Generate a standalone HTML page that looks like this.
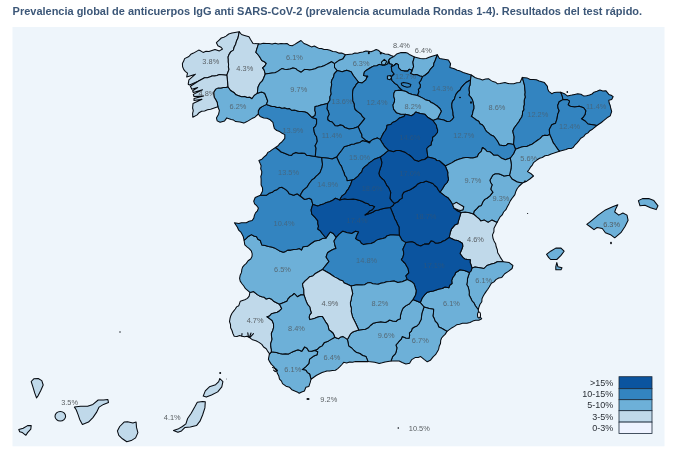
<!DOCTYPE html>
<html lang="es">
<head>
<meta charset="utf-8">
<title>Prevalencia global de anticuerpos IgG anti SARS-CoV-2</title>
<style>
html,body{margin:0;padding:0;background:#ffffff;}
body{width:680px;height:460px;overflow:hidden;font-family:"Liberation Sans",Arial,sans-serif;}
svg{display:block;}
</style>
</head>
<body>
<svg width="680" height="460" viewBox="0 0 680 460">
<rect x="0" y="0" width="680" height="460" fill="#ffffff"/>
<rect x="12.5" y="27" width="652" height="419.3" fill="#eef5fb"/>
<text x="12.6" y="15.2" font-family="'Liberation Sans', Arial, sans-serif" font-weight="700" font-size="11.2" fill="#3c5778" textLength="629.5" lengthAdjust="spacingAndGlyphs">Prevalencia global de anticuerpos IgG anti SARS-CoV-2 (prevalencia acumulada Rondas 1-4). Resultados del test rápido.</text>
<g stroke="#05090f" stroke-width="1.05" stroke-linejoin="round">
<path d="M239.3,31.7L232.0,33.1L228.7,34.0L226.0,36.1L223.8,37.2L221.3,38.0L219.4,39.8L216.4,42.7L217.9,45.7L220.9,47.2L222.5,49.0L219.4,50.9L215.0,49.4L212.0,50.5L209.0,51.6L206.0,51.3L203.1,52.4L201.0,51.1L198.7,50.1L196.1,51.6L193.5,53.1L190.8,54.3L188.9,56.5L184.6,58.6L183.7,61.1L182.4,63.5L182.6,66.7L183.8,69.6L185.5,71.6L187.5,73.2L186.7,76.9L195.5,74.2L188.9,79.8L188.2,84.2L189.5,85.0L198.2,81.2L204.6,77.8L207.2,77.7L209.6,77.0L212.0,76.0L214.6,76.0L217.0,75.4L219.4,74.6L226.8,75.3L229.0,69.4L228.4,67.0L228.6,64.5L228.3,62.0L228.3,59.5L228.1,57.0L229.0,54.6L230.7,51.9L233.4,50.1L234.2,47.0L235.7,44.2L236.5,41.1L237.9,38.3Z" fill="#c0d9ea"/>
<path d="M258.5,43.8L253.0,43.5L250.5,39.5L249.0,36.8L244.5,35.4L241.5,34.5L239.3,31.7L237.9,38.3L236.5,41.1L235.7,44.2L234.2,47.0L233.4,50.1L230.7,51.9L229.0,54.6L228.1,57.0L228.3,59.5L228.3,62.0L228.6,64.5L228.4,67.0L229.0,69.4L226.8,75.3L227.5,80.9L227.8,86.8L230.5,90.5L234.2,92.8L236.0,94.8L238.6,95.7L241.5,96.8L244.5,96.4L247.0,97.5L249.7,97.2L251.9,98.7L254.1,95.7L257.3,93.3L258.0,87.3L259.0,85.0L260.3,82.8L262.3,80.9L263.5,78.5L265.3,74.0L264.8,72.3L264.1,69.9L262.6,67.9L264.8,66.0L266.3,63.5L264.3,61.7L261.8,60.5L259.6,56.8L257.9,54.5L255.9,52.4L256.7,49.4Z" fill="#c0d9ea"/>
<path d="M345.5,54.7L341.7,53.1L338.7,53.1L335.8,51.8L332.8,51.6L330.0,50.3L327.1,49.6L324.0,49.4L321.6,48.4L318.9,48.4L316.6,47.2L314.3,46.0L311.5,46.9L309.2,45.7L306.7,44.5L304.0,43.5L301.0,40.5L297.3,42.8L294.8,44.4L292.2,45.7L289.3,45.2L287.0,43.5L284.0,43.8L281.0,43.4L278.1,43.9L275.2,43.2L272.1,44.1L269.2,43.5L266.3,43.5L263.3,43.2L260.4,43.9L258.5,43.8L256.7,49.4L255.9,52.4L257.9,54.5L259.6,56.8L261.8,60.5L264.3,61.7L266.3,63.5L264.8,66.0L262.6,67.9L264.1,69.9L264.8,72.3L265.3,74.0L272.2,73.1L274.9,72.8L277.4,71.6L279.6,70.1L281.8,68.6L284.4,69.2L287.0,69.4L290.1,69.1L292.9,67.9L295.4,68.4L297.3,70.1L301.0,72.3L304.7,69.4L307.2,69.6L309.6,70.0L312.1,69.4L315.2,68.7L318.0,67.2L321.1,66.8L324.0,65.7L326.2,64.6L328.4,63.5L331.5,61.7L334.5,63.6L338.7,60.6L342.7,59.1L344.7,56.1Z" fill="#6db0d8"/>
<path d="M393.8,56.6L391.0,55.5L388.2,54.2L385.1,54.1L380.7,52.6L378.8,50.6L376.2,49.6L373.6,50.8L371.0,51.8L368.5,51.3L365.9,51.1L363.0,52.1L359.9,52.6L357.5,53.2L354.9,53.1L352.5,54.1L345.5,54.7L344.7,56.1L342.7,59.1L338.7,60.6L334.5,63.6L334.5,67.5L337.1,70.6L342.2,71.8L346.6,70.3L351.1,71.8L353.3,75.5L356.2,79.2L358.5,82.2L362.2,82.9L365.9,79.9L367.3,76.2L363.6,75.5L364.4,71.8L366.5,70.2L368.8,68.8L371.3,67.2L374.0,65.9L376.8,65.8L379.2,64.4L382.1,65.1L385.1,65.1L388.0,63.7L388.6,60.3L390.3,58.4Z" fill="#6db0d8"/>
<path d="M414.4,57.0L409.9,54.8L407.9,53.3L405.5,52.6L401.1,52.6L396.6,54.1L393.8,56.6L390.3,58.4L388.6,60.3L389.5,63.7L392.2,64.4L391.3,66.8L394.0,65.5L396.3,63.5L398.3,64.6L398.7,68.0L400.9,70.2L404.3,71.1L407.8,71.1L409.1,69.3L411.3,69.8L411.8,71.5L413.6,66.6L412.9,62.2Z" fill="#6db0d8"/>
<path d="M437.3,54.8L432.1,56.3L429.1,57.3L426.2,58.5L423.2,58.8L420.3,58.5L414.4,57.0L412.9,62.2L413.6,66.6L411.8,71.5L410.4,73.3L413.0,74.6L416.5,74.6L420.0,75.9L422.4,76.6L424.7,75.5L428.4,72.5L430.7,68.8L433.6,65.9L433.9,63.2L435.1,60.7Z" fill="#6db0d8"/>
<path d="M471.3,75.0L463.2,72.5L460.3,71.1L457.3,70.3L454.3,68.8L449.9,67.4L450.6,63.7L448.4,60.0L444.0,59.2L439.5,58.5L437.3,54.8L435.1,60.7L433.9,63.2L433.6,65.9L430.7,68.8L428.4,72.5L424.7,75.5L422.4,76.6L420.9,80.2L419.1,82.8L420.4,85.0L420.0,87.6L418.3,89.3L418.8,91.8L417.3,95.5L423.3,98.4L426.0,100.1L429.2,100.7L431.1,102.5L433.6,103.6L437.5,106.3L439.8,108.5L441.3,111.3L437.5,118.8L443.8,120.0L446.8,121.4L450.0,121.3L452.1,119.6L453.8,117.5L453.1,115.0L453.0,112.5L452.5,110.0L451.9,107.1L451.8,104.2L452.5,101.3L454.4,99.1L455.2,96.4L456.3,93.8L458.0,91.7L460.1,90.0L461.3,87.5L463.6,84.9L466.0,82.5L470.5,80.0Z" fill="#3384c0"/>
<path d="M522.3,77.4L520.0,82.5L516.8,82.8L513.8,83.8L510.8,83.7L507.9,83.5L505.0,82.5L502.5,83.0L500.0,83.5L497.5,83.8L495.5,82.2L493.0,81.6L490.8,80.4L488.8,78.8L485.6,79.1L482.5,80.0L480.0,79.1L477.5,78.5L475.0,77.5L471.3,75.0L470.5,80.0L470.0,85.0L469.1,87.4L468.9,89.9L469.5,92.6L468.8,95.0L470.9,97.3L472.5,100.0L473.2,102.9L473.8,105.8L473.8,108.8L472.8,111.3L472.5,113.9L471.3,116.3L473.9,118.1L476.3,120.0L478.7,121.2L480.0,123.8L482.5,125.0L484.0,127.0L485.1,129.2L486.3,131.3L488.7,133.1L491.0,135.1L493.8,136.3L496.5,139.8L498.1,142.3L499.4,145.0L503.9,145.7L506.4,145.2L508.3,143.5L513.6,144.5L514.2,136.8L513.4,133.9L512.8,130.9L514.3,127.8L516.4,125.0L519.0,121.5L520.2,119.2L521.8,117.0L522.5,114.4L522.5,111.9L524.0,109.6L523.7,107.0L524.4,104.6L524.3,102.1L524.4,99.6L525.4,97.2L524.9,94.7L525.2,92.2L524.9,89.7L524.7,87.3L524.4,84.8Z" fill="#6db0d8"/>
<path d="M560.7,92.2L557.0,92.2L554.3,92.4L551.8,93.7L548.8,91.4L547.7,89.0L547.4,86.3L544.4,82.6L541.8,81.7L539.2,81.1L536.4,79.8L533.3,79.6L530.2,79.5L527.4,78.1L522.3,77.4L524.4,84.8L524.7,87.3L524.9,89.7L525.2,92.2L524.9,94.7L525.4,97.2L524.4,99.6L524.3,102.1L524.4,104.6L523.7,107.0L524.0,109.6L522.5,111.9L522.5,114.4L521.8,117.0L520.2,119.2L519.0,121.5L516.4,125.0L514.3,127.8L512.8,130.9L513.4,133.9L514.2,136.8L513.6,144.5L515.5,149.2L520.9,147.2L523.8,146.5L526.8,146.4L529.4,145.3L532.0,144.2L534.6,142.4L537.2,140.5L540.0,138.6L542.3,136.1L544.8,135.2L547.5,135.4L549.7,134.5L549.3,129.4L550.6,127.1L551.8,124.7L555.5,123.3L557.0,118.8L557.7,114.4L559.2,110.7L558.1,108.2L557.7,105.5L559.2,101.8L563.0,99.6L562.2,95.9Z" fill="#3384c0"/>
<path d="M596.9,125.5L601.4,122.5L603.6,120.7L605.8,118.8L607.9,117.2L610.2,115.9L611.7,111.4L610.8,108.5L610.2,105.5L609.2,103.0L608.8,100.3L611.7,99.6L613.2,96.6L611.1,95.3L608.8,94.4L605.8,90.7L602.8,90.9L599.9,90.0L597.0,91.2L594.0,92.2L592.0,94.0L589.5,95.1L586.6,95.8L583.6,95.9L580.9,94.2L577.7,93.7L574.7,94.4L571.8,95.1L567.3,95.9L564.4,93.7L560.7,92.2L562.2,95.9L563.0,99.6L567.3,99.6L569.6,101.1L568.1,104.8L570.3,106.2L574.7,107.0L579.2,106.2L583.6,107.7L585.8,110.7L585.1,114.4L583.5,116.8L581.4,118.8L585.1,121.0L588.0,124.0L592.5,124.7Z" fill="#3384c0"/>
<path d="M559.5,151.2L566.0,149.4L568.4,148.4L571.1,148.6L573.4,147.2L575.1,144.8L577.1,142.8L579.0,140.6L580.8,138.3L583.6,136.6L585.4,134.2L588.0,132.9L589.9,130.7L592.5,129.2L596.9,125.5L592.5,124.7L588.0,124.0L585.1,121.0L581.4,118.8L583.5,116.8L585.1,114.4L585.8,110.7L583.6,107.7L579.2,106.2L574.7,107.0L570.3,106.2L568.1,104.8L569.6,101.1L567.3,99.6L563.0,99.6L559.2,101.8L557.7,105.5L558.1,108.2L559.2,110.7L557.7,114.4L557.0,118.8L555.5,123.3L551.8,124.7L550.6,127.1L549.3,129.4L549.7,134.5L552.0,139.8L553.1,142.6L554.9,145.0L556.4,147.2L557.9,149.4Z" fill="#3384c0"/>
<path d="M522.4,183.0L526.8,181.2L529.8,179.0L533.5,176.0L531.2,173.8L527.5,171.6L529.1,169.5L530.5,167.2L532.3,165.1L533.5,162.7L537.2,159.8L539.6,158.2L542.3,157.5L545.0,155.7L548.3,155.3L551.2,154.0L554.2,153.1L559.5,151.2L557.9,149.4L556.4,147.2L554.9,145.0L553.1,142.6L552.0,139.8L549.7,134.5L547.5,135.4L544.8,135.2L542.3,136.1L540.0,138.6L537.2,140.5L534.6,142.4L532.0,144.2L529.4,145.3L526.8,146.4L523.8,146.5L520.9,147.2L515.5,149.2L513.5,153.8L510.3,158.0L511.4,164.8L511.1,167.8L510.6,170.7L509.5,175.2L512.0,179.0L514.6,180.5L517.2,182.0Z" fill="#6db0d8"/>
<path d="M497.0,222.4L499.9,217.2L502.2,214.9L503.6,212.0L505.9,209.7L507.3,206.8L508.9,203.9L510.3,200.9L512.8,197.3L514.9,194.7L515.8,191.4L517.1,188.8L518.8,186.5L522.4,183.0L517.2,182.0L514.6,180.5L512.0,179.0L509.5,175.2L504.0,175.9L501.4,174.8L498.8,173.7L495.1,173.7L492.8,175.1L491.4,177.4L489.9,180.3L490.7,182.7L492.1,184.8L490.7,189.2L492.9,192.2L489.9,195.9L487.3,198.0L484.7,199.4L482.9,201.7L481.4,205.4L478.8,206.3L477.0,208.3L474.0,211.3L473.5,214.0L477.0,217.2L479.1,218.8L480.7,220.9L484.4,220.1L488.1,222.4L491.8,220.1Z" fill="#6db0d8"/>
<path d="M503.3,261.8L500.7,257.9L499.3,255.2L497.7,252.7L497.3,249.7L496.2,246.8L495.6,243.7L494.0,240.9L492.9,238.0L492.5,234.9L493.9,231.7L494.0,228.3L497.0,222.4L491.8,220.1L488.1,222.4L484.4,220.1L480.7,220.9L479.1,218.8L477.0,217.2L473.5,214.0L469.6,212.8L465.1,212.0L461.0,212.6L459.2,218.7L458.4,221.2L457.8,223.8L455.2,224.7L453.3,226.8L451.4,229.2L450.4,232.0L449.2,237.5L454.5,240.0L457.4,240.4L459.9,241.8L462.5,243.5L462.8,246.4L461.8,249.2L460.0,253.5L462.8,257.3L464.8,258.9L467.3,259.5L470.3,259.8L470.1,262.4L471.0,264.8L472.0,268.0L475.1,267.0L479.6,267.8L484.0,268.5L487.0,265.5L491.4,264.1L494.4,263.2L497.3,261.8Z" fill="#c0d9ea"/>
<path d="M478.3,309.8L478.8,307.7L479.9,304.5L481.8,301.8L482.0,298.7L483.3,295.9L484.7,293.6L486.2,291.4L487.8,289.2L489.2,287.0L491.4,283.3L494.0,281.9L495.9,279.6L498.7,278.0L501.8,277.4L504.7,273.7L508.4,271.4L512.1,268.5L512.9,265.5L509.2,262.6L503.3,261.8L497.3,261.8L494.4,263.2L491.4,264.1L487.0,265.5L484.0,268.5L479.6,267.8L475.1,267.0L472.0,268.0L471.0,271.0L469.5,272.5L467.5,278.5L467.4,281.5L466.7,284.5L468.2,287.1L468.9,290.0L469.3,292.5L469.1,295.0L470.7,298.0L472.1,301.0L474.1,303.1L475.3,305.8Z" fill="#6db0d8"/>
<path d="M447.0,331.4L452.1,327.7L454.5,326.4L456.6,324.8L459.6,324.2L462.5,323.3L466.9,323.3L470.0,322.5L472.8,321.1L475.7,320.2L478.8,320.3L481.7,318.8L479.5,316.0L478.5,313.0L478.3,309.8L475.3,305.8L474.1,303.1L472.1,301.0L470.7,298.0L469.1,295.0L469.3,292.5L468.9,290.0L468.2,287.1L466.7,284.5L467.4,281.5L467.5,278.5L469.5,272.5L464.5,270.5L460.0,269.7L457.9,271.2L455.7,272.5L454.6,275.2L452.8,277.5L451.7,280.4L452.0,283.5L449.8,285.2L448.8,287.7L445.1,287.0L442.1,288.4L439.1,289.1L436.2,289.9L433.3,291.0L430.3,291.4L427.4,292.2L425.1,294.3L422.2,298.0L420.3,302.6L424.0,307.0L429.2,308.5L433.6,309.2L433.5,312.6L432.9,315.9L434.2,318.4L435.1,321.1L437.6,323.7L438.8,327.0L441.1,327.9L443.3,329.2Z" fill="#6db0d8"/>
<path d="M391.0,361.0L399.2,361.1L402.2,362.5L405.9,364.0L409.6,363.3L411.8,359.6L415.5,357.4L418.2,357.4L420.7,356.6L424.4,359.6L427.3,361.8L430.3,360.3L433.3,356.6L435.5,354.7L437.0,352.2L438.6,349.4L439.2,346.3L440.5,343.5L440.7,340.4L441.6,338.0L443.2,336.1L445.1,334.4L447.0,331.4L443.3,329.2L441.1,327.9L438.8,327.0L437.6,323.7L435.1,321.1L434.2,318.4L432.9,315.9L433.5,312.6L433.6,309.2L429.2,308.5L424.0,307.0L421.8,313.7L421.5,316.7L421.1,319.6L419.9,321.8L418.8,324.0L416.9,325.9L414.4,327.0L412.2,328.5L411.4,331.1L409.4,332.9L409.6,335.6L409.0,338.3L405.9,337.9L402.3,336.5L401.2,339.2L399.0,341.3L397.6,343.2L395.9,345.0L396.9,347.7L396.5,350.5L395.5,353.7L392.6,356.6Z" fill="#6db0d8"/>
<path d="M368.1,361.6L374.7,362.3L379.2,363.5L382.2,362.8L385.1,362.0L391.0,361.0L392.6,356.6L395.5,353.7L396.5,350.5L396.9,347.7L395.9,345.0L397.6,343.2L399.0,341.3L401.2,339.2L402.3,336.5L405.9,337.9L409.0,338.3L409.6,335.6L409.4,332.9L411.4,331.1L412.2,328.5L414.4,327.0L416.9,325.9L418.8,324.0L419.9,321.8L421.1,319.6L421.5,316.7L421.8,313.7L424.0,307.0L420.3,302.6L412.9,299.6L409.2,304.0L406.0,305.6L403.3,307.8L402.0,310.3L401.1,312.9L400.4,315.8L400.4,318.8L397.9,319.7L395.9,321.5L392.7,320.9L389.5,320.0L387.5,321.5L385.2,322.5L380.8,321.8L376.4,322.5L373.1,323.3L370.4,325.5L368.2,327.8L365.3,329.2L358.8,330.0L354.8,331.3L352.3,332.3L350.3,334.2L347.4,339.4L348.8,346.1L351.7,348.0L354.0,350.5L356.6,352.6L359.9,353.5L362.6,355.5L365.9,356.4Z" fill="#6db0d8"/>
<path d="M311.0,379.2L316.2,375.5L319.1,374.0L322.1,372.5L324.5,371.8L326.9,370.9L329.5,371.1L332.4,370.6L335.4,370.3L337.8,368.6L339.9,366.6L341.9,364.5L343.7,362.3L346.7,362.9L349.6,362.0L352.6,362.2L355.5,361.6L358.5,361.6L368.1,361.6L365.9,356.4L362.6,355.5L359.9,353.5L356.6,352.6L354.0,350.5L351.7,348.0L348.8,346.1L347.4,339.4L342.9,336.4L340.5,337.1L338.5,338.7L334.8,337.2L331.1,339.4L327.4,341.6L324.4,342.4L322.1,345.9L319.2,347.3L317.0,349.6L311.5,351.3L314.7,350.4L317.7,351.8L317.0,354.8L313.3,356.3L309.6,359.2L308.8,363.7L305.9,366.6L302.2,369.6L305.9,370.3L307.3,372.6L309.6,374.0Z" fill="#6db0d8"/>
<path d="M269.4,354.2L268.4,359.2L269.8,361.9L271.4,364.4L273.6,366.3L275.1,368.8L276.7,370.8L277.3,373.3L278.8,376.1L279.5,379.2L281.5,381.1L282.5,383.6L286.0,386.2L289.6,387.3L291.8,389.7L294.8,391.0L297.1,391.9L299.2,393.3L301.7,392.0L304.4,391.0L305.9,387.3L308.8,386.6L310.3,382.2L311.0,379.2L309.6,374.0L307.3,372.6L305.9,370.3L302.2,369.6L305.9,366.6L308.8,363.7L309.6,359.2L313.3,356.3L317.0,354.8L317.7,351.8L314.7,350.4L311.5,351.3L308.8,351.1L307.0,348.3L304.6,346.9L303.2,349.1L301.8,351.3L298.0,349.8L295.4,350.8L292.8,351.8L290.6,352.9L288.4,354.0L285.4,353.7L282.5,354.0L279.5,353.5L276.6,352.5L271.4,351.8Z" fill="#6db0d8"/>
<path d="M249.9,292.4L249.2,296.1L247.4,298.4L244.8,299.8L240.3,301.2L238.8,305.7L236.6,306.9L235.3,309.0L233.8,310.9L232.0,313.2L230.8,315.7L230.0,318.5L229.5,321.6L230.5,324.5L230.6,327.7L232.0,330.5L232.9,333.5L234.2,336.3L237.0,336.4L239.6,335.5L242.0,336.2L244.5,336.7L247.0,336.3L249.9,337.8L252.6,339.8L255.9,340.7L259.0,342.4L261.8,344.4L263.6,347.0L266.2,348.8L267.6,351.1L269.2,353.3L269.4,354.2L271.4,351.8L271.4,349.6L270.8,346.7L270.7,343.7L272.1,339.2L271.5,336.3L271.4,333.3L272.8,330.4L273.6,327.3L273.5,323.8L272.1,320.5L269.2,318.3L267.0,316.8L269.6,315.9L271.4,313.8L274.3,313.0L277.3,312.3L279.7,310.7L281.7,308.6L279.5,304.2L273.6,301.2L271.7,299.3L269.2,298.3L266.2,299.0L264.3,297.3L261.8,296.8L259.5,295.9L257.3,294.6L253.6,291.6Z" fill="#c0d9ea"/>
<path d="M244.1,240.5L244.8,244.9L247.0,246.8L249.2,248.6L251.3,250.8L252.2,253.8L252.0,256.5L250.7,259.0L248.1,260.8L246.3,263.4L244.3,265.1L242.6,267.1L241.8,269.7L241.5,272.4L240.2,275.2L239.6,278.3L240.2,281.1L241.8,283.5L243.8,286.0L245.5,288.7L249.9,292.4L253.6,291.6L257.3,294.6L259.5,295.9L261.8,296.8L264.3,297.3L266.2,299.0L269.2,298.3L271.7,299.3L273.6,301.2L279.5,304.2L286.9,301.2L288.1,298.8L289.9,296.8L292.3,295.4L294.3,293.5L297.5,296.8L301.0,294.8L304.0,295.0L303.8,289.5L303.0,286.7L302.5,283.8L304.9,281.2L307.5,278.8L309.7,276.7L312.8,276.0L315.0,273.8L322.5,269.5L325.0,266.3L327.0,263.9L329.0,261.5L327.5,259.3L326.1,257.0L327.5,252.8L331.0,250.5L333.4,249.2L336.0,248.5L335.0,245.5L334.0,241.0L336.2,237.4L333.3,233.5L330.3,232.0L328.1,234.9L326.0,238.0L322.2,238.6L319.2,240.3L314.8,241.0L311.1,243.5L307.4,246.3L303.0,246.8L301.5,250.0L299.5,248.6L296.6,249.2L293.6,249.4L290.7,250.1L287.7,250.1L285.6,251.4L283.3,252.3L279.6,250.9L277.0,249.4L274.4,247.9L271.5,247.0L268.5,246.4L265.2,245.6L261.8,244.9L260.3,240.5L257.9,239.2L256.6,236.8L253.9,236.0L251.4,234.6L247.8,236.8Z" fill="#6db0d8"/>
<path d="M260.4,195.3L255.2,197.5L253.7,201.2L254.6,203.8L256.7,205.7L258.4,208.0L257.4,210.9L255.5,212.9L254.4,215.4L253.8,218.1L252.2,220.5L249.1,221.3L246.3,222.8L243.8,222.8L241.3,222.7L238.9,223.5L234.4,222.8L237.4,227.2L238.7,230.2L241.1,232.4L242.2,234.6L243.3,236.8L244.1,240.5L247.8,236.8L251.4,234.6L253.9,236.0L256.6,236.8L257.9,239.2L260.3,240.5L261.8,244.9L265.2,245.6L268.5,246.4L271.5,247.0L274.4,247.9L277.0,249.4L279.6,250.9L283.3,252.3L285.6,251.4L287.7,250.1L290.7,250.1L293.6,249.4L296.6,249.2L299.5,248.6L301.5,250.0L303.0,246.8L307.4,246.3L311.1,243.5L314.8,241.0L319.2,240.3L322.2,238.6L326.0,238.0L322.2,233.5L320.3,230.9L317.8,229.0L318.5,226.1L317.8,223.5L317.8,220.9L314.8,217.2L311.8,214.2L311.1,209.8L312.8,204.4L311.5,199.5L309.2,198.3L304.7,199.5L300.3,196.0L297.3,193.8L293.6,195.3L289.2,193.8L287.7,191.3L285.5,189.4L281.8,187.2L279.3,187.7L277.4,189.4L274.6,190.4L272.2,192.3L269.0,193.3L266.3,195.3Z" fill="#3384c0"/>
<path d="M275.5,147.5L272.2,149.6L270.2,151.2L267.8,152.4L266.4,155.0L264.1,156.8L261.9,159.2L258.9,160.5L260.0,163.1L261.1,165.7L260.7,168.7L261.8,171.6L261.6,174.1L260.8,176.5L261.1,179.0L261.1,181.9L261.1,184.9L262.5,187.7L262.6,190.9L260.4,195.3L266.3,195.3L269.0,193.3L272.2,192.3L274.6,190.4L277.4,189.4L279.3,187.7L281.8,187.2L285.5,189.4L287.7,191.3L289.2,193.8L293.6,195.3L297.3,193.8L300.3,196.0L301.0,193.8L303.3,190.1L307.0,187.2L309.2,183.5L312.1,179.8L314.3,178.4L316.0,176.3L318.0,174.6L320.0,172.7L321.0,170.1L322.1,167.2L322.5,164.2L321.7,157.6L315.3,156.5L309.2,155.4L306.6,155.2L304.5,153.2L301.8,153.1L298.8,153.3L295.9,152.4L293.3,153.4L291.4,155.4L288.8,155.1L286.4,154.1L284.0,153.1L281.2,152.1L279.0,150.0Z" fill="#3384c0"/>
<path d="M258.3,114.0L260.1,116.4L263.8,117.9L266.9,118.3L269.7,119.4L272.9,122.3L273.7,126.0L274.4,128.6L276.8,130.5L279.6,131.6L282.1,133.3L284.8,134.6L284.8,138.3L281.8,142.0L279.7,143.6L278.1,145.7L275.5,147.5L279.0,150.0L281.2,152.1L284.0,153.1L286.4,154.1L288.8,155.1L291.4,155.4L293.3,153.4L295.9,152.4L298.8,153.3L301.8,153.1L304.5,153.2L306.6,155.2L309.2,155.4L315.3,156.5L315.8,150.9L316.1,148.2L315.1,145.7L316.3,143.5L317.3,141.2L316.6,136.8L315.2,134.7L314.3,132.3L313.6,127.9L315.6,126.1L316.6,123.5L316.6,119.0L312.1,117.5L310.7,116.1L307.7,113.1L304.9,111.8L301.8,111.6L299.3,111.4L296.8,110.7L294.4,110.1L291.8,110.3L289.6,108.6L287.0,108.7L284.6,107.8L282.0,108.2L279.6,107.2L277.1,107.5L274.7,106.6L272.2,106.4L266.5,104.4L262.0,106.6L259.7,108.2L258.3,110.7Z" fill="#3384c0"/>
<path d="M217.9,106.8L219.4,110.5L218.6,114.2L216.4,117.9L217.2,120.9L220.1,122.3L224.6,120.9L226.8,117.9L231.2,119.4L233.6,120.1L235.7,121.6L240.1,122.0L243.8,123.1L246.0,122.0L248.2,120.9L251.9,118.6L254.9,117.2L258.3,114.0L258.3,110.7L259.7,108.2L262.0,106.6L266.5,104.4L267.7,101.0L266.2,97.0L264.7,93.2L261.5,91.9L257.3,93.3L254.1,95.7L251.9,98.7L249.7,97.2L247.0,97.5L244.5,96.4L241.5,96.8L238.6,95.7L236.0,94.8L234.2,92.8L230.5,90.5L227.8,86.8L226.0,87.6L223.4,87.5L220.9,88.0L218.2,87.9L215.7,89.1L213.5,92.8L214.2,97.2L215.8,99.8L217.2,102.4Z" fill="#6db0d8"/>
<path d="M192.8,117.2L197.2,114.9L199.1,112.7L201.6,111.2L204.6,110.9L207.5,109.8L210.6,109.3L213.5,108.3L217.9,106.8L217.2,102.4L215.8,99.8L214.2,97.2L213.5,92.8L215.7,89.1L218.2,87.9L220.9,88.0L223.4,87.5L226.0,87.6L227.8,86.8L227.5,80.9L226.8,75.3L219.4,74.6L217.0,75.4L214.6,76.0L212.0,76.0L209.6,77.0L207.2,77.7L204.6,77.8L198.2,81.2L190.4,86.3L191.8,89.3L197.7,87.6L192.6,90.7L193.3,92.5L202.5,89.8L193.3,94.4L194.0,96.5L203.5,96.0L194.0,98.5L194.0,100.5L202.0,99.3L193.0,103.5L192.6,108.0L193.3,110.7L192.6,113.3Z" fill="#c0d9ea"/>
<path d="M265.3,74.0L263.5,78.5L262.3,80.9L260.3,82.8L259.0,85.0L258.0,87.3L257.3,93.3L261.5,91.9L264.7,93.2L266.2,97.0L267.7,101.0L266.5,104.4L272.2,106.4L274.7,106.6L277.1,107.5L279.6,107.2L282.0,108.2L284.6,107.8L287.0,108.7L289.6,108.6L291.8,110.3L294.4,110.1L296.8,110.7L299.3,111.4L301.8,111.6L304.9,111.8L307.7,113.1L310.7,116.1L312.1,117.5L315.1,115.3L315.5,112.7L314.8,110.1L315.1,106.4L318.1,106.0L321.0,105.0L327.7,103.5L330.0,100.0L329.9,96.9L331.2,94.0L330.7,90.5L331.2,87.0L331.7,84.6L331.3,82.2L332.0,79.8L333.6,77.0L334.2,73.9L337.1,70.6L334.5,67.5L334.5,63.6L331.5,61.7L328.4,63.5L326.2,64.6L324.0,65.7L321.1,66.8L318.0,67.2L315.2,68.7L312.1,69.4L309.6,70.0L307.2,69.6L304.7,69.4L301.0,72.3L297.3,70.1L295.4,68.4L292.9,67.9L290.1,69.1L287.0,69.4L284.4,69.2L281.8,68.6L279.6,70.1L277.4,71.6L274.9,72.8L272.2,73.1Z" fill="#6db0d8"/>
<path d="M337.1,70.6L334.2,73.9L333.6,77.0L332.0,79.8L331.3,82.2L331.7,84.6L331.2,87.0L330.7,90.5L331.2,94.0L329.9,96.9L330.0,100.0L327.7,103.5L326.9,108.7L328.4,111.5L329.1,114.6L327.7,117.0L327.7,119.8L329.7,121.2L332.1,122.0L335.1,125.7L337.7,125.9L340.2,124.9L342.8,125.6L344.8,127.5L349.2,129.0L353.7,128.3L358.1,126.8L361.8,122.4L364.8,118.7L362.6,116.7L361.1,114.2L357.4,111.3L355.3,109.5L354.4,106.8L354.3,103.7L352.9,100.9L352.7,97.8L352.5,94.7L352.7,91.7L353.3,88.8L355.0,86.7L356.2,84.4L358.5,82.2L356.2,79.2L353.3,75.5L351.1,71.8L346.6,70.3L342.2,71.8Z" fill="#3384c0"/>
<path d="M388.6,60.3L388.0,63.7L385.1,65.1L382.1,65.1L379.2,64.4L376.8,65.8L374.0,65.9L371.3,67.2L368.8,68.8L366.5,70.2L364.4,71.8L363.6,75.5L367.3,76.2L365.9,79.9L362.2,82.9L358.5,82.2L356.2,84.4L355.0,86.7L353.3,88.8L352.7,91.7L352.5,94.7L352.7,97.8L352.9,100.9L354.3,103.7L354.4,106.8L355.3,109.5L357.4,111.3L361.1,114.2L362.6,116.7L364.8,118.7L361.8,122.4L358.1,126.8L360.3,132.0L361.7,134.4L361.8,137.2L365.5,140.1L369.2,142.3L372.9,139.4L377.3,137.9L380.3,139.6L382.5,134.9L383.8,132.5L385.5,130.5L386.6,128.0L387.0,125.3L390.7,124.6L392.5,122.5L395.1,121.6L397.4,119.8L399.5,117.9L404.0,116.4L405.4,114.2L401.0,114.2L396.6,112.8L393.6,109.1L393.0,105.0L394.4,102.1L394.6,99.1L393.7,96.2L393.9,93.3L395.2,90.7L399.1,90.2L403.0,90.7L401.0,89.3L398.7,86.8L397.1,84.7L394.8,83.4L392.0,80.5L391.0,77.0L394.2,74.0L391.9,71.2L391.3,66.8L392.2,64.4L389.5,63.7Z" fill="#3384c0"/>
<path d="M411.8,71.5L411.3,69.8L409.1,69.3L407.8,71.1L404.3,71.1L400.9,70.2L398.7,68.0L398.3,64.6L396.3,63.5L394.0,65.5L391.3,66.8L391.9,71.2L394.2,74.0L391.0,77.0L392.0,80.5L394.8,83.4L397.1,84.7L398.7,86.8L401.0,89.3L403.0,90.7L406.1,91.5L408.7,93.3L412.2,94.5L417.3,95.5L418.8,91.8L418.3,89.3L420.0,87.6L420.4,85.0L419.1,82.8L420.9,80.2L422.4,76.6L420.0,75.9L416.5,74.6L413.0,74.6L410.4,73.3Z" fill="#3384c0"/>
<path d="M417.3,95.5L412.2,94.5L408.7,93.3L406.1,91.5L403.0,90.7L399.1,90.2L395.2,90.7L393.9,93.3L393.7,96.2L394.6,99.1L394.4,102.1L393.0,105.0L393.6,109.1L396.6,112.8L401.0,114.2L405.4,114.2L411.4,115.7L413.9,114.2L415.8,112.0L420.2,113.5L424.7,114.2L427.6,117.2L433.0,120.5L437.5,118.8L441.3,111.3L439.8,108.5L437.5,106.3L433.6,103.6L431.1,102.5L429.2,100.7L426.0,100.1L423.3,98.4Z" fill="#6db0d8"/>
<path d="M433.0,120.5L427.6,117.2L424.7,114.2L420.2,113.5L415.8,112.0L413.9,114.2L411.4,115.7L405.4,114.2L404.0,116.4L399.5,117.9L397.4,119.8L395.1,121.6L392.5,122.5L390.7,124.6L387.0,125.3L386.6,128.0L385.5,130.5L383.8,132.5L382.5,134.9L380.3,139.6L381.8,142.2L383.3,144.4L384.7,146.7L388.4,150.4L393.6,151.8L396.4,150.6L399.5,150.4L402.5,151.4L405.4,152.6L407.6,154.1L409.9,155.5L412.3,157.6L414.3,160.0L418.8,161.4L421.6,160.0L424.7,159.5L427.8,157.0L426.8,148.5L428.8,146.4L431.3,145.0L431.4,142.5L432.7,140.1L432.5,137.5L435.3,135.3L437.5,132.5L437.7,129.9L436.8,127.5L436.3,125.0Z" fill="#0b549f"/>
<path d="M437.5,118.8L433.0,120.5L436.3,125.0L436.8,127.5L437.7,129.9L437.5,132.5L435.3,135.3L432.5,137.5L432.7,140.1L431.4,142.5L431.3,145.0L428.8,146.4L426.8,148.5L427.8,157.0L435.0,158.8L436.8,160.5L439.5,160.8L441.3,162.5L445.3,166.0L452.2,162.6L455.0,160.8L458.1,159.6L460.6,158.8L463.0,158.1L465.5,157.4L468.0,157.5L470.4,158.0L472.9,158.1L477.3,156.7L478.8,153.6L481.3,151.3L482.5,147.5L485.0,149.2L487.0,151.5L490.0,151.8L491.9,153.4L493.6,155.2L498.0,155.3L501.7,158.3L505.4,159.8L510.3,158.0L513.5,153.8L515.5,149.2L513.6,144.5L508.3,143.5L506.4,145.2L503.9,145.7L499.4,145.0L498.1,142.3L496.5,139.8L493.8,136.3L491.0,135.1L488.7,133.1L486.3,131.3L485.1,129.2L484.0,127.0L482.5,125.0L480.0,123.8L478.7,121.2L476.3,120.0L473.9,118.1L471.3,116.3L472.5,113.9L472.8,111.3L473.8,108.8L473.8,105.8L473.2,102.9L472.5,100.0L470.9,97.3L468.8,95.0L469.5,92.6L468.9,89.9L469.1,87.4L470.0,85.0L470.5,80.0L466.0,82.5L463.6,84.9L461.3,87.5L460.1,90.0L458.0,91.7L456.3,93.8L455.2,96.4L454.4,99.1L452.5,101.3L451.8,104.2L451.9,107.1L452.5,110.0L453.0,112.5L453.1,115.0L453.8,117.5L452.1,119.6L450.0,121.3L446.8,121.4L443.8,120.0Z" fill="#3384c0"/>
<path d="M510.3,158.0L505.4,159.8L501.7,158.3L498.0,155.3L493.6,155.2L491.9,153.4L490.0,151.8L487.0,151.5L485.0,149.2L482.5,147.5L481.3,151.3L478.8,153.6L477.3,156.7L472.9,158.1L470.4,158.0L468.0,157.5L465.5,157.4L463.0,158.1L460.6,158.8L458.1,159.6L455.0,160.8L452.2,162.6L445.3,166.0L447.8,172.2L447.7,174.7L448.0,177.2L448.5,179.6L447.1,182.5L444.8,184.8L442.6,188.5L440.0,192.2L444.8,195.9L447.8,197.7L450.0,200.3L452.6,204.6L456.3,202.4L460.0,204.6L463.7,206.8L462.9,209.8L460.4,210.4L457.8,209.8L454.1,208.3L457.5,211.0L461.0,212.6L465.1,212.0L469.6,212.8L473.5,214.0L474.0,211.3L477.0,208.3L478.8,206.3L481.4,205.4L482.9,201.7L484.7,199.4L487.3,198.0L489.9,195.9L492.9,192.2L490.7,189.2L492.1,184.8L490.7,182.7L489.9,180.3L491.4,177.4L492.8,175.1L495.1,173.7L498.8,173.7L501.4,174.8L504.0,175.9L509.5,175.2L510.6,170.7L511.1,167.8L511.4,164.8Z" fill="#6db0d8"/>
<path d="M449.2,237.5L450.4,232.0L451.4,229.2L453.3,226.8L455.2,224.7L457.8,223.8L458.4,221.2L459.2,218.7L461.0,212.6L457.5,211.0L454.1,208.3L452.6,204.6L450.0,200.3L447.8,197.7L444.8,195.9L440.0,192.2L438.4,190.0L437.0,187.4L434.7,185.5L432.9,183.5L430.3,182.6L425.9,181.1L423.4,182.3L420.7,182.6L417.7,183.9L415.5,186.3L412.6,188.3L409.6,190.0L406.7,191.1L403.7,192.2L402.2,195.0L402.2,198.1L399.7,199.6L397.8,201.8L394.2,203.4L393.0,205.5L390.3,207.4L392.5,212.8L393.7,215.7L394.7,218.7L396.4,221.5L397.6,224.6L399.0,227.0L399.1,229.8L399.3,235.3L402.2,240.4L405.9,242.6L411.8,241.8L414.7,242.8L417.0,244.8L420.7,246.0L424.4,244.1L428.8,244.1L431.0,241.1L433.5,241.6L435.5,243.3L438.1,243.3L440.7,242.6L442.7,241.2L445.1,240.4Z" fill="#0b549f"/>
<path d="M452.6,204.6L454.1,208.3L457.8,209.8L460.4,210.4L462.9,209.8L463.7,206.8L460.0,204.6L456.3,202.4Z" fill="#c0d9ea"/>
<path d="M445.3,166.0L441.3,162.5L439.5,160.8L436.8,160.5L435.0,158.8L427.8,157.0L424.7,159.5L421.6,160.0L418.8,161.4L414.3,160.0L412.3,157.6L409.9,155.5L407.6,154.1L405.4,152.6L402.5,151.4L399.5,150.4L396.4,150.6L393.6,151.8L388.4,150.4L384.0,154.1L380.3,157.0L381.8,162.2L381.5,165.3L380.3,168.1L379.6,170.7L378.8,173.3L379.7,176.2L381.8,178.5L384.1,180.3L385.5,182.9L386.6,185.4L388.4,187.3L389.6,189.9L390.7,192.5L390.3,195.5L389.9,198.4L392.1,201.4L394.2,203.4L397.8,201.8L399.7,199.6L402.2,198.1L402.2,195.0L403.7,192.2L406.7,191.1L409.6,190.0L412.6,188.3L415.5,186.3L417.7,183.9L420.7,182.6L423.4,182.3L425.9,181.1L430.3,182.6L432.9,183.5L434.7,185.5L437.0,187.4L438.4,190.0L440.0,192.2L442.6,188.5L444.8,184.8L447.1,182.5L448.5,179.6L448.0,177.2L447.7,174.7L447.8,172.2Z" fill="#0b549f"/>
<path d="M388.4,150.4L384.7,146.7L383.3,144.4L381.8,142.2L380.3,139.6L377.3,137.9L372.9,139.4L369.2,142.3L362.5,140.5L359.8,142.4L356.6,143.1L354.2,143.9L351.6,144.3L349.2,145.3L346.6,146.0L344.1,146.8L341.5,150.5L338.8,153.9L336.6,157.0L339.6,163.7L341.5,166.4L342.6,169.6L343.9,172.5L344.8,175.5L346.6,177.8L347.0,180.7L352.2,179.9L354.4,179.2L358.1,176.2L359.7,173.8L361.8,171.8L362.7,168.8L364.8,166.6L367.2,165.0L369.2,162.9L371.8,161.1L374.4,159.2L380.3,157.0L384.0,154.1Z" fill="#3384c0"/>
<path d="M369.2,142.3L365.5,140.1L361.8,137.2L361.7,134.4L360.3,132.0L358.1,126.8L353.7,128.3L349.2,129.0L344.8,127.5L342.8,125.6L340.2,124.9L337.7,125.9L335.1,125.7L332.1,122.0L329.7,121.2L327.7,119.8L327.7,117.0L329.1,114.6L328.4,111.5L326.9,108.7L327.7,103.5L321.0,105.0L318.1,106.0L315.1,106.4L314.8,110.1L315.5,112.7L315.1,115.3L312.1,117.5L316.6,119.0L316.6,123.5L315.6,126.1L313.6,127.9L314.3,132.3L315.2,134.7L316.6,136.8L317.3,141.2L316.3,143.5L315.1,145.7L316.1,148.2L315.8,150.9L315.3,156.5L321.7,157.6L328.4,158.3L332.1,159.1L336.6,157.0L338.8,153.9L341.5,150.5L344.1,146.8L346.6,146.0L349.2,145.3L351.6,144.3L354.2,143.9L356.6,143.1L359.8,142.4L362.5,140.5Z" fill="#3384c0"/>
<path d="M336.6,157.0L332.1,159.1L328.4,158.3L321.7,157.6L322.5,164.2L322.1,167.2L321.0,170.1L320.0,172.7L318.0,174.6L316.0,176.3L314.3,178.4L312.1,179.8L309.2,183.5L307.0,187.2L303.3,190.1L301.0,193.8L300.3,196.0L304.7,199.5L309.2,198.3L311.5,199.5L312.8,204.4L317.8,206.1L320.7,204.7L323.7,203.9L326.5,202.5L329.6,201.7L332.7,200.3L335.5,198.3L339.6,199.9L341.8,196.2L345.5,193.3L346.7,190.9L348.5,188.8L349.6,186.6L350.7,184.4L352.2,179.9L347.0,180.7L346.6,177.8L344.8,175.5L343.9,172.5L342.6,169.6L341.5,166.4L339.6,163.7Z" fill="#3384c0"/>
<path d="M339.6,199.9L335.5,198.3L332.7,200.3L329.6,201.7L326.5,202.5L323.7,203.9L320.7,204.7L317.8,206.1L312.8,204.4L311.1,209.8L311.8,214.2L314.8,217.2L317.8,220.9L317.8,223.5L318.5,226.1L317.8,229.0L320.3,230.9L322.2,233.5L326.0,238.0L328.1,234.9L330.3,232.0L333.3,233.5L336.2,237.4L339.2,234.2L342.9,231.2L347.3,232.7L351.8,233.5L355.5,231.2L358.4,232.0L356.9,234.9L355.5,238.6L357.5,240.1L359.9,240.9L361.3,243.2L363.6,244.6L368.0,243.8L371.1,243.4L374.0,242.3L376.0,240.6L378.4,239.4L382.8,238.6L385.4,237.7L387.3,235.7L390.2,235.1L393.2,234.9L399.3,235.3L399.1,229.8L399.0,227.0L397.6,224.6L396.4,221.5L394.7,218.7L393.7,215.7L392.5,212.8L390.3,207.4L386.0,208.0L381.4,209.1L378.4,210.0L375.4,210.5L372.6,212.3L369.5,213.5L365.1,215.0L368.0,212.8L370.0,210.9L372.5,209.8L374.7,206.8L372.6,205.6L369.9,205.4L368.0,203.7L364.9,202.7L362.1,201.2L359.1,200.3L356.2,199.4L353.3,199.1L350.3,199.2L347.5,199.4L344.8,198.7Z" fill="#0b549f"/>
<path d="M352.2,179.9L350.7,184.4L349.6,186.6L348.5,188.8L346.7,190.9L345.5,193.3L341.8,196.2L339.6,199.9L344.8,198.7L347.5,199.4L350.3,199.2L353.3,199.1L356.2,199.4L359.1,200.3L362.1,201.2L364.9,202.7L368.0,203.7L369.9,205.4L372.6,205.6L374.7,206.8L372.5,209.8L370.0,210.9L368.0,212.8L365.1,215.0L369.5,213.5L372.6,212.3L375.4,210.5L378.4,210.0L381.4,209.1L386.0,208.0L390.3,207.4L393.0,205.5L394.2,203.4L392.1,201.4L389.9,198.4L390.3,195.5L390.7,192.5L389.6,189.9L388.4,187.3L386.6,185.4L385.5,182.9L384.1,180.3L381.8,178.5L379.7,176.2L378.8,173.3L379.6,170.7L380.3,168.1L381.5,165.3L381.8,162.2L380.3,157.0L374.4,159.2L371.8,161.1L369.2,162.9L367.2,165.0L364.8,166.6L362.7,168.8L361.8,171.8L359.7,173.8L358.1,176.2L354.4,179.2Z" fill="#0b549f"/>
<path d="M405.9,242.6L402.2,240.4L399.3,235.3L393.2,234.9L390.2,235.1L387.3,235.7L385.4,237.7L382.8,238.6L378.4,239.4L376.0,240.6L374.0,242.3L371.1,243.4L368.0,243.8L363.6,244.6L361.3,243.2L359.9,240.9L357.5,240.1L355.5,238.6L356.9,234.9L358.4,232.0L355.5,231.2L351.8,233.5L347.3,232.7L342.9,231.2L339.2,234.2L336.2,237.4L334.0,241.0L335.0,245.5L336.0,248.5L333.4,249.2L331.0,250.5L327.5,252.8L326.1,257.0L327.5,259.3L329.0,261.5L327.0,263.9L325.0,266.3L322.5,269.5L330.0,273.8L332.4,275.5L334.9,277.1L337.5,278.4L340.0,280.0L342.7,280.7L344.3,283.1L346.8,284.1L351.0,286.0L357.1,284.8L359.6,285.1L362.0,285.0L364.5,284.8L367.2,283.1L370.4,282.6L372.9,283.8L375.6,284.1L378.3,284.3L380.8,283.3L383.8,282.7L386.7,281.8L390.0,281.5L394.1,281.0L397.8,282.5L402.2,281.8L407.4,279.6L405.9,275.9L408.8,272.9L408.1,268.5L406.6,265.9L405.1,263.3L403.2,261.5L401.4,259.6L402.9,257.2L403.7,254.4L403.6,251.8L402.9,249.2Z" fill="#3384c0"/>
<path d="M449.2,237.5L445.1,240.4L442.7,241.2L440.7,242.6L438.1,243.3L435.5,243.3L433.5,241.6L431.0,241.1L428.8,244.1L424.4,244.1L420.7,246.0L417.0,244.8L414.7,242.8L411.8,241.8L405.9,242.6L402.9,249.2L403.6,251.8L403.7,254.4L402.9,257.2L401.4,259.6L403.2,261.5L405.1,263.3L406.6,265.9L408.1,268.5L408.8,272.9L405.9,275.9L407.4,279.6L411.8,281.8L413.9,283.6L414.8,286.2L416.2,290.7L415.5,295.1L412.9,299.6L420.3,302.6L422.2,298.0L425.1,294.3L427.4,292.2L430.3,291.4L433.3,291.0L436.2,289.9L439.1,289.1L442.1,288.4L445.1,287.0L448.8,287.7L449.8,285.2L452.0,283.5L451.7,280.4L452.8,277.5L454.6,275.2L455.7,272.5L457.9,271.2L460.0,269.7L464.5,270.5L469.5,272.5L471.0,271.0L472.0,268.0L471.0,264.8L470.1,262.4L470.3,259.8L467.3,259.5L464.8,258.9L462.8,257.3L460.0,253.5L461.8,249.2L462.8,246.4L462.5,243.5L459.9,241.8L457.4,240.4L454.5,240.0Z" fill="#0b549f"/>
<path d="M412.9,299.6L415.5,295.1L416.2,290.7L414.8,286.2L413.9,283.6L411.8,281.8L407.4,279.6L402.2,281.8L397.8,282.5L394.1,281.0L390.0,281.5L386.7,281.8L383.8,282.7L380.8,283.3L378.3,284.3L375.6,284.1L372.9,283.8L370.4,282.6L367.2,283.1L364.5,284.8L362.0,285.0L359.6,285.1L357.1,284.8L351.0,286.0L352.7,293.7L351.6,296.6L351.2,299.6L350.4,302.5L350.5,305.5L351.4,308.4L351.2,311.4L351.9,314.4L352.7,317.3L354.2,320.3L355.7,323.3L358.8,330.0L365.3,329.2L368.2,327.8L370.4,325.5L373.1,323.3L376.4,322.5L380.8,321.8L385.2,322.5L387.5,321.5L389.5,320.0L392.7,320.9L395.9,321.5L397.9,319.7L400.4,318.8L400.4,315.8L401.1,312.9L402.0,310.3L403.3,307.8L406.0,305.6L409.2,304.0Z" fill="#6db0d8"/>
<path d="M358.8,330.0L355.7,323.3L354.2,320.3L352.7,317.3L351.9,314.4L351.2,311.4L351.4,308.4L350.5,305.5L350.4,302.5L351.2,299.6L351.6,296.6L352.7,293.7L351.0,286.0L346.8,284.1L344.3,283.1L342.7,280.7L340.0,280.0L337.5,278.4L334.9,277.1L332.4,275.5L330.0,273.8L322.5,269.5L315.0,273.8L312.8,276.0L309.7,276.7L307.5,278.8L304.9,281.2L302.5,283.8L303.0,286.7L303.8,289.5L304.0,295.0L306.1,301.1L307.5,304.3L309.8,307.0L310.4,310.0L311.3,312.9L309.7,314.8L309.1,317.3L309.8,319.6L312.3,319.1L314.8,318.3L317.2,317.3L319.7,316.5L322.4,316.6L324.5,320.0L325.9,322.4L327.6,324.6L328.4,327.1L328.9,329.8L331.2,331.5L333.3,333.5L334.8,337.2L338.5,338.7L340.5,337.1L342.9,336.4L347.4,339.4L350.3,334.2L352.3,332.3L354.8,331.3Z" fill="#c0d9ea"/>
<path d="M334.8,337.2L333.3,333.5L331.2,331.5L328.9,329.8L328.4,327.1L327.6,324.6L325.9,322.4L324.5,320.0L322.4,316.6L319.7,316.5L317.2,317.3L314.8,318.3L312.3,319.1L309.8,319.6L309.1,317.3L309.7,314.8L311.3,312.9L310.4,310.0L309.8,307.0L307.5,304.3L306.1,301.1L304.0,295.0L301.0,294.8L297.5,296.8L294.3,293.5L292.3,295.4L289.9,296.8L288.1,298.8L286.9,301.2L279.5,304.2L281.7,308.6L279.7,310.7L277.3,312.3L274.3,313.0L271.4,313.8L269.6,315.9L267.0,316.8L269.2,318.3L272.1,320.5L273.5,323.8L273.6,327.3L272.8,330.4L271.4,333.3L271.5,336.3L272.1,339.2L270.7,343.7L270.8,346.7L271.4,349.6L271.4,351.8L276.6,352.5L279.5,353.5L282.5,354.0L285.4,353.7L288.4,354.0L290.6,352.9L292.8,351.8L295.4,350.8L298.0,349.8L301.8,351.3L303.2,349.1L304.6,346.9L307.0,348.3L308.8,351.1L311.5,351.3L317.0,349.6L319.2,347.3L322.1,345.9L324.4,342.4L327.4,341.6L331.1,339.4Z" fill="#6db0d8"/>
<path d="M586.8,224.4L591.9,220.3L598.1,215.1L605.4,209.9L612.6,206.8L617.8,204.8L615.7,208.9L614.7,212.0L618.8,215.1L622.9,213.0L627.0,215.1L628.1,220.3L625.0,226.5L620.9,232.7L614.7,237.8L610.5,234.7L605.4,232.7L602.3,228.5L597.1,227.5L594.0,229.6L589.9,226.5Z" fill="#6db0d8"/>
<path d="M638.4,200.6L642.5,198.6L648.7,198.6L653.9,200.6L658.0,205.8L656.2,209.6L650.5,207.8L645.0,205.2L640.0,205.8Z" fill="#6db0d8"/>
<path d="M546.5,254.3L550.6,251.2L555.8,248.1L561.0,248.1L564.1,251.2L561.0,255.4L556.8,259.5L550.6,259.5L548.6,257.4Z" fill="#6db0d8"/>
<path d="M556.8,262.6L557.9,266.7L562.0,267.8L561.0,269.8L555.8,269.8L555.8,266.7Z" fill="#6db0d8"/>
<path d="M31.2,381.5L33.8,378.8L38.2,378.5L41.8,380.6L43.2,385.0L40.9,390.3L38.2,395.6L36.5,397.9L34.7,392.9L32.9,386.8Z" fill="#c0d9ea"/>
<path d="M18.8,429.6L23.2,428.2L27.6,425.6L31.2,425.6L30.8,429.1L27.6,432.6L25.9,435.3L22.4,432.6L19.7,431.8Z" fill="#c0d9ea"/>
<path d="M74.4,407.1L80.6,406.2L87.6,406.2L92.9,404.4L98.2,400.0L103.5,400.0L107.9,399.6L108.5,402.6L103.5,404.4L99.1,407.1L96.5,412.4L92.9,417.6L88.5,422.1L82.4,424.4L79.7,419.4L77.9,414.1L76.2,409.7Z" fill="#c0d9ea"/>
<path d="M124.1,422.1L127.6,421.7L132.9,422.9L136.1,422.1L136.5,427.4L137.9,432.6L135.6,437.9L131.2,440.6L126.8,441.8L122.4,438.8L118.8,435.3L117.4,430.9L119.7,426.5Z" fill="#c0d9ea"/>
<path d="M197.3,402.3L202.6,401.4L205.3,401.8L204.9,407.9L202.6,415.0L200.0,421.2L196.5,425.6L190.3,427.0L185.0,427.4L181.5,430.9L177.9,432.3L173.5,430.5L177.9,429.1L182.4,426.5L185.9,423.8L187.6,418.5L191.2,413.2L194.7,407.1Z" fill="#c0d9ea"/>
<path d="M203.2,396.1L205.3,390.9L209.4,386.8L215.6,384.7L218.7,381.6L219.8,378.5L222.9,381.6L221.8,386.8L217.7,391.9L211.5,395.0L206.3,397.1Z" fill="#c0d9ea"/>
<path d="M401.3,83.3L403.5,82.4L407.8,83.3L410.9,84.6L410.0,86.7L407.0,87.2L403.9,86.3L401.7,85.0Z" fill="#3384c0"/>
<path d="M381.4,62.2L384.3,59.4L386.6,61.4L385.1,64.5L382.1,64.9Z" fill="#6db0d8"/>
<path d="M387.4,75.9L390.4,75.4L391.5,77.6L390.0,79.8L387.4,78.9Z" fill="#6db0d8"/>
<ellipse cx="60.3" cy="416.2" rx="5.3" ry="4.8" fill="#c0d9ea"/>
<ellipse cx="479" cy="314.9" rx="1.5" ry="3" fill="#f4f8fc"/>
</g>
<path d="M241.8,336 L242,333.6 M248.4,336.8 L247.8,332.8 M249.5,337 L251,333 M250,337.3 L253.5,333.6 M272.6,367.4 L275.5,368.4 L277.4,370.4 L275.2,371.6 L273.6,370.2" fill="none" stroke="#05090f" stroke-width="1.1" stroke-linecap="round" stroke-linejoin="round"/>
<g fill="#05090f">
<ellipse cx="308.0" cy="398.9" rx="1.6" ry="1.0"/>
<ellipse cx="398.3" cy="428.0" rx="0.8" ry="0.8"/>
<ellipse cx="611.0" cy="243.0" rx="0.9" ry="1.3"/>
<ellipse cx="220.2" cy="373.0" rx="1.0" ry="1.0"/>
<ellipse cx="226.4" cy="379.0" rx="0.4" ry="0.4"/>
<ellipse cx="120.0" cy="332.0" rx="0.7" ry="0.7"/>
<ellipse cx="527.6" cy="213.5" rx="0.6" ry="0.6"/>
<ellipse cx="460.0" cy="97.5" rx="1.0" ry="0.8"/>
<ellipse cx="471.0" cy="102.5" rx="0.9" ry="1.2"/>
<ellipse cx="525.0" cy="181.3" rx="1.3" ry="0.7"/>
<ellipse cx="369.3" cy="142.2" rx="1.0" ry="1.2"/>
<ellipse cx="367.3" cy="76.5" rx="1.0" ry="1.0"/>
<ellipse cx="567.3" cy="92.0" rx="0.8" ry="1.0"/>
<ellipse cx="368.8" cy="52.9" rx="1.0" ry="1.3"/>
<ellipse cx="380.8" cy="53.2" rx="0.9" ry="1.4"/>
</g>
<g font-family="'Liberation Sans', Arial, sans-serif" font-size="7.4" fill="#505558" fill-opacity="0.8" text-anchor="middle">
<text x="210.8" y="63.6" fill-opacity="0.92">3.8%</text>
<text x="244.8" y="71.3" fill-opacity="0.92">4.3%</text>
<text x="207.0" y="96.2" fill-opacity="0.92">4.8%</text>
<text x="238.0" y="108.8" fill-opacity="0.78">6.2%</text>
<text x="294.4" y="60.2" fill-opacity="0.78">6.1%</text>
<text x="298.8" y="92.1" fill-opacity="0.78">9.7%</text>
<text x="361.1" y="66.4" fill-opacity="0.78">6.3%</text>
<text x="405.5" y="78.9" fill-opacity="0.58">12.7%</text>
<text x="442.5" y="90.8" fill-opacity="0.58">14.3%</text>
<text x="412.9" y="108.5" fill-opacity="0.78">8.2%</text>
<text x="377.0" y="104.8" fill-opacity="0.58">12.4%</text>
<text x="342.0" y="103.7" fill-opacity="0.58">13.6%</text>
<text x="292.9" y="132.8" fill-opacity="0.58">13.9%</text>
<text x="332.0" y="138.0" fill-opacity="0.58">11.4%</text>
<text x="409.9" y="139.9" fill-opacity="0.4">14.6%</text>
<text x="359.6" y="159.7" fill-opacity="0.58">15.0%</text>
<text x="288.5" y="175.1" fill-opacity="0.58">13.5%</text>
<text x="327.7" y="186.9" fill-opacity="0.58">14.9%</text>
<text x="372.2" y="190.8" fill-opacity="0.4">18.6%</text>
<text x="409.9" y="176.0" fill-opacity="0.4">17.0%</text>
<text x="497.0" y="110.2" fill-opacity="0.78">8.6%</text>
<text x="463.8" y="137.7" fill-opacity="0.58">12.7%</text>
<text x="537.8" y="116.6" fill-opacity="0.58">12.2%</text>
<text x="569.6" y="129.2" fill-opacity="0.58">12.4%</text>
<text x="596.2" y="109.2" fill-opacity="0.58">11.4%</text>
<text x="528.7" y="161.0" fill-opacity="0.78">5.6%</text>
<text x="472.9" y="183.0" fill-opacity="0.78">9.7%</text>
<text x="501.0" y="200.8" fill-opacity="0.78">9.3%</text>
<text x="425.9" y="218.6" fill-opacity="0.4">18.7%</text>
<text x="357.0" y="222.8" fill-opacity="0.4">17.4%</text>
<text x="284.0" y="225.5" fill-opacity="0.58">10.4%</text>
<text x="282.5" y="272.0" fill-opacity="0.78">6.5%</text>
<text x="366.6" y="262.7" fill-opacity="0.58">14.8%</text>
<text x="434.0" y="267.5" fill-opacity="0.4">17.1%</text>
<text x="475.5" y="242.1" fill-opacity="0.92">4.6%</text>
<text x="483.7" y="283.0" fill-opacity="0.78">6.1%</text>
<text x="451.4" y="306.0" fill-opacity="0.78">6.1%</text>
<text x="380.0" y="305.5" fill-opacity="0.78">8.2%</text>
<text x="330.0" y="306.3" fill-opacity="0.92">4.9%</text>
<text x="296.5" y="331.0" fill-opacity="0.78">8.4%</text>
<text x="255.1" y="322.7" fill-opacity="0.92">4.7%</text>
<text x="292.8" y="371.5" fill-opacity="0.78">6.1%</text>
<text x="332.0" y="360.4" fill-opacity="0.78">6.4%</text>
<text x="386.1" y="338.1" fill-opacity="0.78">9.6%</text>
<text x="420.3" y="343.0" fill-opacity="0.78">6.7%</text>
<text x="401.4" y="48.3" fill-opacity="0.95">8.4%</text>
<text x="423.3" y="52.6" fill-opacity="0.95">6.4%</text>
<text x="611.6" y="226.7" fill-opacity="0.95">6.3%</text>
<text x="69.6" y="405.0" fill-opacity="0.95">3.5%</text>
<text x="172.2" y="419.7" fill-opacity="0.95">4.1%</text>
<text x="328.8" y="402.2" fill-opacity="0.95">9.2%</text>
<text x="419.3" y="430.7" fill-opacity="0.95">10.5%</text>
</g>
<g stroke="#1b2a3a" stroke-width="0.8">
<rect x="619.0" y="376.7" width="33" height="12.0" fill="#0b549f"/>
<rect x="619.0" y="388.7" width="33" height="11.0" fill="#3384c0"/>
<rect x="619.0" y="399.7" width="33" height="11.0" fill="#6db0d8"/>
<rect x="619.0" y="410.7" width="33" height="11.4" fill="#c0d9ea"/>
<rect x="619.0" y="422.1" width="33" height="11.4" fill="#eff3ff"/>
</g>
<g font-family="'Liberation Sans', Arial, sans-serif" font-size="9" fill="#2a2f36" text-anchor="end">
<text x="613.3" y="385.9">&gt;15%</text>
<text x="613.3" y="397.4">10-15%</text>
<text x="613.3" y="408.4">5-10%</text>
<text x="613.3" y="419.6">3-5%</text>
<text x="613.3" y="431.0">0-3%</text>
</g>
</svg>
</body>
</html>
